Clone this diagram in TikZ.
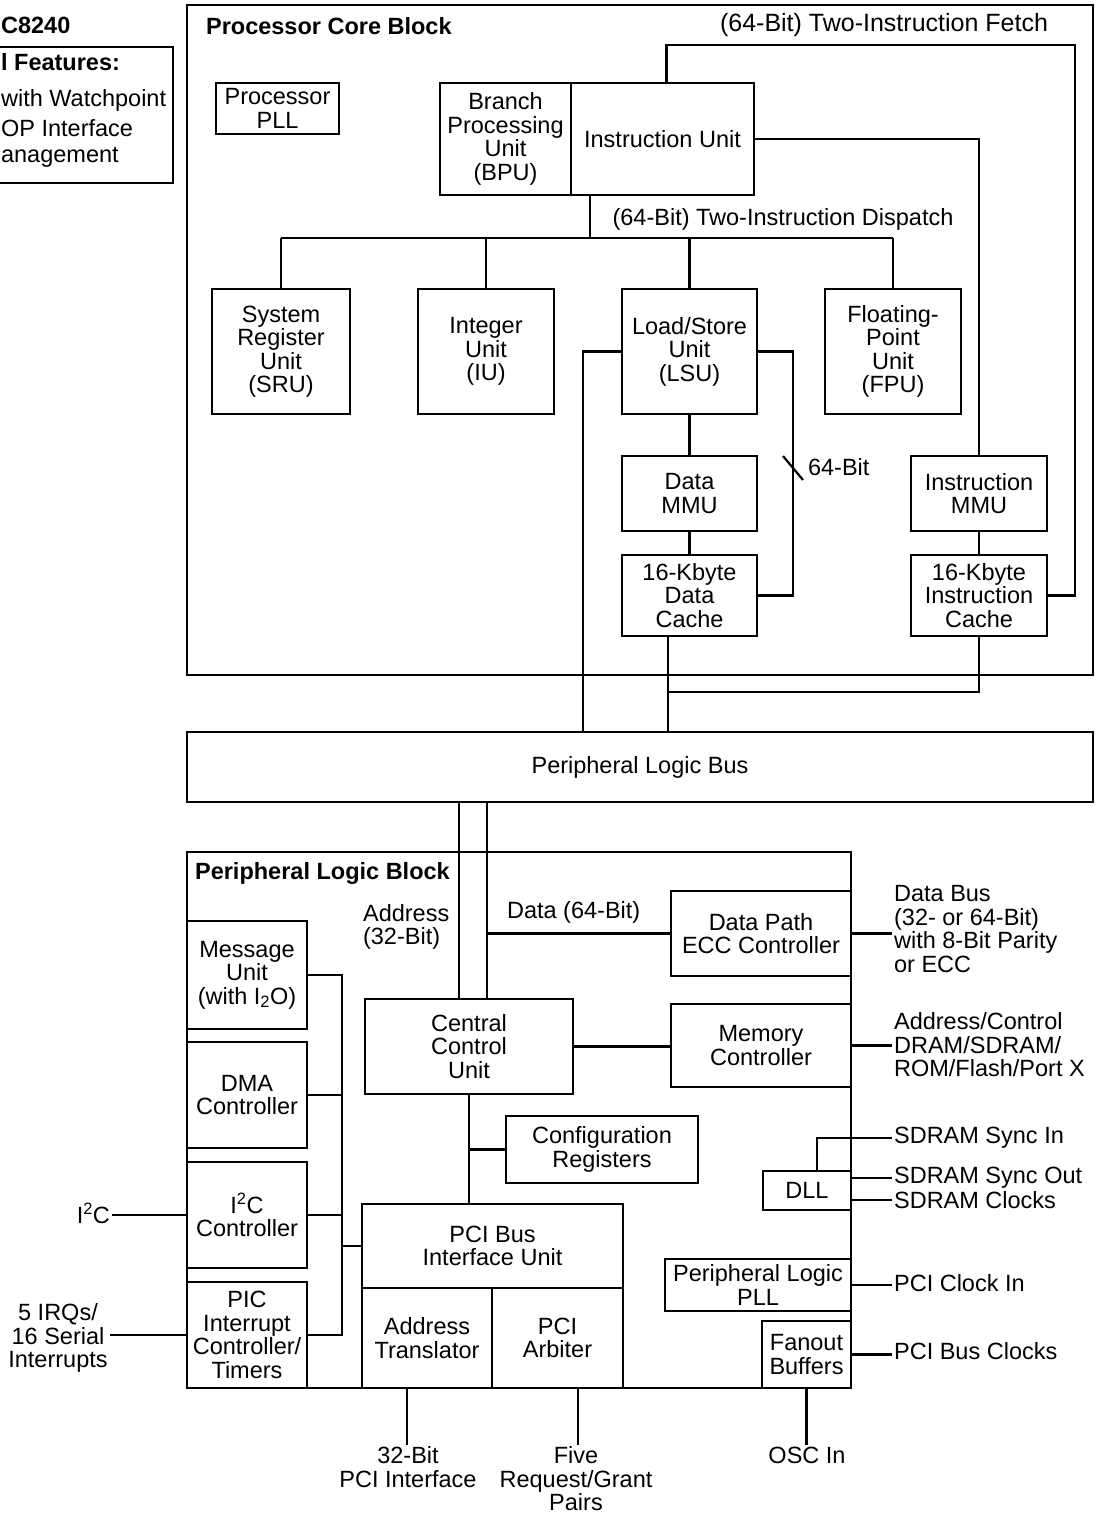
\documentclass[tikz,border=0pt]{standalone}
\usepackage{fontspec}
\setmainfont{Liberation Sans}
\usetikzlibrary{positioning}

\begin{document}
\begin{tikzpicture}[
  x=1pt, y=-1pt,
  line width=2.2pt,
  every node/.style={font=\fontsize{23.5}{23.5}\selectfont, inner sep=1pt},
  dims/.style 2 args={minimum width=#1pt, minimum height=#2pt},
  unit/.style={draw, align=center, inner sep=0pt},
  blockbox/.style={draw, inner sep=0pt},
  heading/.style={font=\fontsize{23.5}{23.5}\selectfont\bfseries, anchor=west},
  sig/.style={align=left, anchor=west},
  tag/.style={align=center}
]
\useasboundingbox (0,0) rectangle (1100,1517);

% Cut-off feature box on the left
\draw (0,47) -- (173,47) -- (173,183) -- (0,183);
\node[heading, inner sep=0pt] (chipttl) at (0,25) {C8240};
\node[heading, inner sep=0pt] (featttl) at (0,62) {l Features:};
\node[sig, inner sep=0pt] (feat1) at (0,100) {with Watchpoint};
\node[sig, inner sep=0pt] (feat2) at (0,128) {OP Interface};
\node[sig, inner sep=0pt] (feat3) at (0,157) {anagement};

% Processor core block
\node[blockbox, dims={906}{670}] (core) at (640,340) {};
\node[heading] (corettl) at (204,26) {Processor Core Block};
\node[font=\fontsize{25}{25}\selectfont] (fetchlbl) at (884,25) {(64-Bit) Two-Instruction Fetch};
\node[unit, dims={123}{51}] (ppll) at (277.5,108.5) {Processor\\PLL};
\node[unit, dims={131}{112}] (bpu) at (505.5,139) {Branch\\Processing\\Unit\\(BPU)};
\node[unit, dims={183}{112}] (iu) at (662.5,139) {Instruction Unit};
\node (displbl) at (783,219) {(64-Bit) Two-Instruction Dispatch};
\node[unit, dims={138}{125}] (sru) at (281,351.5) {System\\Register\\Unit\\(SRU)};
\node[unit, dims={136}{125}] (intu) at (486,351.5) {Integer\\Unit\\(IU)};
\node[unit, dims={135}{125}] (lsu) at (689.5,351.5) {Load/Store\\Unit\\(LSU)};
\node[unit, dims={136}{125}] (fpu) at (893,351.5) {Floating-\\Point\\Unit\\(FPU)};
\node[unit, dims={135}{75}] (dmmu) at (689.5,493.5) {Data\\MMU};
\node[unit, dims={135}{81}] (dcache) at (689.5,595.5) {16-Kbyte\\Data\\Cache};
\node[unit, dims={136}{75}] (immu) at (979,493.5) {Instruction\\MMU};
\node[unit, dims={136}{81}] (icache) at (979,595.5) {16-Kbyte\\Instruction\\Cache};
\node[sig] (bitlbl) at (806,467) {64-Bit};

% Bus
\node[unit, dims={906}{70}] (plb) at (640,767) {Peripheral Logic Bus};

% Peripheral logic block
\node[blockbox, dims={664}{536}] (plblk) at (519,1120) {};
\node[heading] (plttl) at (193,873) {Peripheral Logic Block};
\node[sig] (addrlbl) at (361,927) {Address\\(32-Bit)};
\node[sig] (datalbl) at (505,912) {Data (64-Bit)};
\node[unit, dims={120}{108}] (msg) at (247,975) {Message\\Unit\\(with I\textsubscript{2}O)};
\node[unit, dims={120}{106}] (dma) at (247,1095) {DMA\\Controller};
\node[unit, dims={120}{106}] (i2c) at (247,1215) {I\textsuperscript{2}C\\Controller};
\node[unit, dims={120}{106}] (pic) at (247,1335) {PIC\\Interrupt\\Controller/\\Timers};
\node[unit, dims={208}{95}] (ccu) at (469,1046.5) {Central\\Control\\Unit};
\node[unit, dims={192}{67}] (cfg) at (602,1149.5) {Configuration\\Registers};
\node[unit, dims={261}{84}] (pcibiu) at (492.5,1246) {PCI Bus\\Interface Unit};
\node[unit, dims={130}{100}] (atrans) at (427,1338) {Address\\Translator};
\node[unit, dims={131}{100}] (arb) at (557.5,1338) {PCI\\Arbiter};
\node[unit, dims={180}{85}] (dpecc) at (761,933.5) {Data Path\\ECC Controller};
\node[unit, dims={180}{83}] (memc) at (761,1045.5) {Memory\\Controller};
\node[unit, dims={88}{39}] (dll) at (807,1190.5) {DLL};
\node[unit, dims={186}{52}] (plpll) at (758,1285) {Peripheral Logic\\PLL};
\node[unit, dims={89}{67}] (fanout) at (806.5,1354.5) {Fanout\\Buffers};

% Outside signals
\node[sig] (databus) at (892,929) {Data Bus\\(32- or 64-Bit)\\with 8-Bit Parity\\or ECC};
\node[sig] (addrctl) at (892,1045) {Address/Control\\DRAM/SDRAM/\\ROM/Flash/Port X};
\node[sig] (syncin) at (892,1138) {SDRAM Sync In};
\node[sig] (syncout) at (892,1178) {SDRAM Sync Out};
\node[sig] (sdclk) at (892,1200) {SDRAM Clocks};
\node[sig] (pciclk) at (892,1283) {PCI Clock In};
\node[sig] (busclk) at (892,1351) {PCI Bus Clocks};
\node[tag, anchor=east] (i2clbl) at (112,1213) {I\textsuperscript{2}C};
\node[tag] (irqlbl) at (58,1338) {5 IRQs/\\16 Serial\\Interrupts};
\node[tag] (pciif) at (408,1467) {32-Bit\\PCI Interface};
\node[tag] (reqgnt) at (576,1479) {Five\\Request/Grant\\Pairs};
\node[tag] (osc) at (807,1455) {OSC In};

\coordinate (fetchtop) at (1075,45);
\coordinate (disp) at (590,238);
\coordinate (bitmark) at (793,468);
\coordinate (dmerge) at (668,692);
\coordinate (addrin) at ([xshift=-10pt]ccu.north);
\coordinate (datain) at ([xshift=18pt]ccu.north);

% Core connections
\draw ([xshift=4pt]iu.north) |- (fetchtop) |- (icache.east);
\draw (iu.east) -| (immu.north);
\draw (disp |- iu.south) -- (disp);
\draw (sru.north |- disp) -- (fpu.north |- disp);
\draw (sru.north) -- (sru.north |- disp);
\draw (intu.north) -- (intu.north |- disp);
\draw (lsu.north) -- (lsu.north |- disp);
\draw (fpu.north) -- (fpu.north |- disp);
\draw (lsu.south) -- (dmmu.north);
\draw (dmmu.south) -- (dcache.north);
\draw (immu.south) -- (icache.north);
\draw (lsu.east) -| (bitmark) |- (dcache.east);
\draw (bitmark) ++(-10,-12) -- ++(20,24);
\draw (lsu.west) -| ([xshift=-57pt]plb.north);
\draw (dcache.south -| dmerge) -- (dmerge |- plb.north);
\draw (icache.south) |- (dmerge);

% Bus to peripheral block
\draw (addrin) -- (addrin |- plb.south);
\draw (datain) -- (datain |- plb.south);
\draw (dpecc.west) -- (dpecc.west -| datain);
\draw (ccu.east) -- (ccu.east -| memc.west);
\draw (ccu.south) -- (ccu.south |- pcibiu.north);
\draw (ccu.south |- cfg.west) -- (cfg.west);

% Internal bus on the left
\draw (msg.east) -- ++(34,0) coordinate (lbus) -- (lbus |- pic.east) -- (pic.east);
\draw (dma.east) -- (dma.east -| lbus);
\draw (i2c.east) -- (i2c.east -| lbus);
\draw (lbus |- pcibiu.west) -- (pcibiu.west);

% External signals
\draw (dpecc.east) -- (dpecc.east -| databus.west);
\draw (memc.east) -- (memc.east -| addrctl.west);
\draw ([xshift=10pt]dll.north) |- (syncin.west);
\draw (syncout.west -| dll.east) -- (syncout.west);
\draw (sdclk.west -| dll.east) -- (sdclk.west);
\draw (plpll.east) -- (plpll.east -| pciclk.west);
\draw (fanout.east) -- (fanout.east -| busclk.west);
\draw (i2c.west) -- (i2c.west -| i2clbl.east);
\draw (pic.west) -- (pic.west -| irqlbl.east);
\draw ([xshift=-20pt]atrans.south) -- ([xshift=-20pt]atrans.south |- pciif.north);
\draw ([xshift=20.5pt]arb.south) -- ([xshift=20.5pt]arb.south |- reqgnt.north);
\draw (fanout.south) -- (fanout.south |- osc.north);

\end{tikzpicture}
\end{document}
